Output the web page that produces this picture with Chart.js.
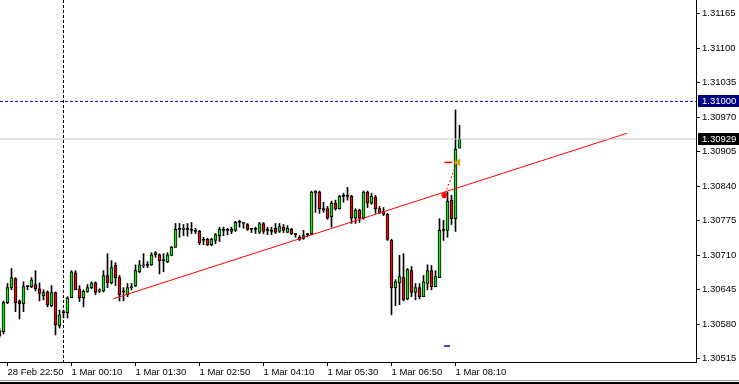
<!DOCTYPE html>
<html>
<head>
<meta charset="utf-8">
<script src="https://cdn.jsdelivr.net/npm/chart.js@4.4.0/dist/chart.umd.min.js"></script>
<style>
  body { margin: 0; background: #fff; }
  #grafico { display: block; }
</style>
</head>
<body>
<canvas id="grafico" width="739" height="384"></canvas>
<script>
// Velas de 5 minutos desde 28 Feb 22:40 (índice 0)
const aperturas = [
  1.30568, 1.30566, 1.30621, 1.30649, 1.30666, 1.30624, 1.30619, 1.30651, 1.30651, 1.30655,
  1.30647, 1.30634, 1.30641, 1.30615, 1.30640, 1.30577, 1.30602, 1.30602, 1.30630, 1.30677,
  1.30647, 1.30630, 1.30642, 1.30649, 1.30658, 1.30642, 1.30643, 1.30672, 1.30658, 1.30691,
  1.30668, 1.30641, 1.30636, 1.30649, 1.30653, 1.30679, 1.30690, 1.30691, 1.30692, 1.30711,
  1.30711, 1.30700, 1.30698, 1.30710, 1.30725, 1.30759, 1.30759, 1.30759, 1.30757, 1.30757,
  1.30755, 1.30738, 1.30740, 1.30730, 1.30738, 1.30747, 1.30757, 1.30757, 1.30755, 1.30757,
  1.30772, 1.30770, 1.30768, 1.30759, 1.30759, 1.30753, 1.30770, 1.30757, 1.30755, 1.30761,
  1.30755, 1.30763, 1.30753, 1.30759, 1.30749, 1.30744, 1.30742, 1.30749, 1.30751, 1.30827,
  1.30829, 1.30798, 1.30798, 1.30783, 1.30808, 1.30798, 1.30821, 1.30821, 1.30821, 1.30780,
  1.30795, 1.30780, 1.30829, 1.30808, 1.30819, 1.30798, 1.30793, 1.30787, 1.30738, 1.30649,
  1.30658, 1.30668, 1.30628, 1.30681, 1.30640, 1.30649, 1.30632, 1.30657, 1.30681, 1.30651,
  1.30668, 1.30757, 1.30757, 1.30814, 1.30779, 1.30912
];
const maximos = [
  1.30572, 1.30624, 1.30657, 1.30685, 1.30668, 1.30626, 1.30660, 1.30653, 1.30668, 1.30681,
  1.30658, 1.30645, 1.30643, 1.30653, 1.30641, 1.30607, 1.30607, 1.30632, 1.30681, 1.30681,
  1.30653, 1.30645, 1.30655, 1.30660, 1.30660, 1.30647, 1.30681, 1.30713, 1.30700, 1.30696,
  1.30672, 1.30649, 1.30657, 1.30657, 1.30692, 1.30700, 1.30713, 1.30698, 1.30715, 1.30717,
  1.30713, 1.30713, 1.30715, 1.30727, 1.30770, 1.30770, 1.30768, 1.30770, 1.30772, 1.30761,
  1.30757, 1.30744, 1.30742, 1.30742, 1.30751, 1.30763, 1.30763, 1.30761, 1.30763, 1.30774,
  1.30776, 1.30772, 1.30770, 1.30761, 1.30763, 1.30772, 1.30772, 1.30763, 1.30763, 1.30770,
  1.30770, 1.30768, 1.30766, 1.30761, 1.30751, 1.30747, 1.30757, 1.30751, 1.30831, 1.30832,
  1.30831, 1.30810, 1.30802, 1.30812, 1.30814, 1.30823, 1.30827, 1.30838, 1.30823, 1.30798,
  1.30797, 1.30831, 1.30831, 1.30827, 1.30823, 1.30802, 1.30800, 1.30789, 1.30740, 1.30664,
  1.30710, 1.30713, 1.30685, 1.30689, 1.30657, 1.30657, 1.30672, 1.30692, 1.30691, 1.30681,
  1.30779, 1.30776, 1.30829, 1.30823, 1.30984, 1.30955
];
const minimos = [
  1.30555, 1.30562, 1.30619, 1.30645, 1.30604, 1.30590, 1.30604, 1.30645, 1.30649, 1.30643,
  1.30624, 1.30626, 1.30613, 1.30613, 1.30560, 1.30573, 1.30592, 1.30592, 1.30630, 1.30645,
  1.30623, 1.30613, 1.30640, 1.30647, 1.30636, 1.30640, 1.30641, 1.30649, 1.30656, 1.30653,
  1.30624, 1.30624, 1.30632, 1.30645, 1.30651, 1.30677, 1.30687, 1.30687, 1.30691, 1.30706,
  1.30675, 1.30679, 1.30696, 1.30709, 1.30725, 1.30744, 1.30747, 1.30746, 1.30751, 1.30751,
  1.30730, 1.30730, 1.30728, 1.30728, 1.30732, 1.30736, 1.30747, 1.30749, 1.30751, 1.30755,
  1.30763, 1.30761, 1.30757, 1.30753, 1.30751, 1.30751, 1.30751, 1.30749, 1.30749, 1.30751,
  1.30753, 1.30753, 1.30753, 1.30749, 1.30744, 1.30738, 1.30740, 1.30745, 1.30749, 1.30791,
  1.30789, 1.30791, 1.30778, 1.30763, 1.30795, 1.30797, 1.30810, 1.30814, 1.30770, 1.30770,
  1.30772, 1.30778, 1.30800, 1.30806, 1.30789, 1.30789, 1.30785, 1.30738, 1.30598, 1.30615,
  1.30617, 1.30624, 1.30626, 1.30632, 1.30626, 1.30628, 1.30632, 1.30645, 1.30645, 1.30651,
  1.30668, 1.30738, 1.30744, 1.30768, 1.30755, 1.30912
];
const cierres = [
  1.30558, 1.30621, 1.30649, 1.30668, 1.30621, 1.30619, 1.30651, 1.30651, 1.30664, 1.30647,
  1.30638, 1.30640, 1.30617, 1.30640, 1.30579, 1.30598, 1.30602, 1.30630, 1.30679, 1.30645,
  1.30630, 1.30642, 1.30649, 1.30658, 1.30640, 1.30645, 1.30672, 1.30658, 1.30687, 1.30668,
  1.30636, 1.30641, 1.30649, 1.30651, 1.30681, 1.30692, 1.30692, 1.30691, 1.30711, 1.30715,
  1.30700, 1.30700, 1.30711, 1.30725, 1.30759, 1.30759, 1.30761, 1.30759, 1.30757, 1.30755,
  1.30734, 1.30738, 1.30730, 1.30740, 1.30749, 1.30759, 1.30757, 1.30757, 1.30759, 1.30772,
  1.30772, 1.30772, 1.30759, 1.30759, 1.30759, 1.30770, 1.30755, 1.30757, 1.30755, 1.30753,
  1.30764, 1.30757, 1.30761, 1.30751, 1.30749, 1.30740, 1.30747, 1.30749, 1.30829, 1.30831,
  1.30798, 1.30795, 1.30780, 1.30808, 1.30798, 1.30821, 1.30821, 1.30821, 1.30780, 1.30795,
  1.30780, 1.30829, 1.30808, 1.30821, 1.30798, 1.30791, 1.30787, 1.30740, 1.30649, 1.30660,
  1.30670, 1.30626, 1.30683, 1.30640, 1.30649, 1.30632, 1.30660, 1.30681, 1.30651, 1.30670,
  1.30757, 1.30757, 1.30812, 1.30779, 1.30910, 1.30929
];

// Eje de tiempo: índice de vela y su texto
const posEtiquetas = [2, 18, 34, 50, 66, 82, 98, 114];
const etiquetasTiempo = ['28 Feb 22:50', '1 Mar 00:10', '1 Mar 01:30', '1 Mar 02:50',
  '1 Mar 04:10', '1 Mar 05:30', '1 Mar 06:50', '1 Mar 08:10'];

// Eje de precios
const ticksPrecio = [1.31165, 1.31100, 1.31035, 1.30970, 1.30905, 1.30840,
  1.30775, 1.30710, 1.30645, 1.30580, 1.30515];

// Objetos del gráfico
const nivelAlerta = 1.31000;
const precioActual = 1.30929;
const separadorDia = 16; // 1 Mar 00:00
const tendenciaX = [28.4, 156.9];
const tendenciaY = [1.30628, 1.30940];
const operacionX = [111.4, 114.4];
const operacionY = [1.30827, 1.30885];
const stopLoss = 1.30539;

const verde = '#22dc22';
const rojo = '#d01010';
const fuente = { family: 'Liberation Sans, Arial, sans-serif', size: 9.5 };
const xMin = 0.125, xMax = 174.125;
const yMin = 1.30509, yMax = 1.31191;

const mechas = minimos.map((l, i) => ({ x: i, y: [l, maximos[i]] }));
const cuerpos = aperturas.map((o, i) => ({ x: i, y: [o, cierres[i]] }));
const coloresCuerpo = aperturas.map((o, i) => cierres[i] > o ? verde : (cierres[i] < o ? rojo : '#000'));

function linea(puntos, color, dash) {
  return {
    type: 'line', data: puntos, borderColor: color, borderWidth: 1,
    borderDash: dash || [], pointRadius: 0, fill: false, order: 1
  };
}

function marca(x, y, estilo, color, radio, rot) {
  return {
    type: 'line', data: [{ x: x, y: y }], showLine: false, order: 0,
    pointStyle: estilo, pointRadius: radio, pointRotation: rot || 0,
    pointBackgroundColor: color, pointBorderColor: color, pointBorderWidth: 1.5
  };
}

// Cajas de precio en el eje derecho y borde inferior
const cajasPrecio = {
  id: 'cajasPrecio',
  afterDraw(chart) {
    const ctx = chart.ctx;
    const ejeY = chart.scales.y;
    const x0 = chart.chartArea.right + 2;
    [[nivelAlerta, '#000080'], [precioActual, '#000']].forEach(([valor, fondo]) => {
      const y = Math.round(ejeY.getPixelForValue(valor));
      ctx.fillStyle = fondo;
      ctx.fillRect(x0, y - 6, 739 - x0, 12);
      ctx.fillStyle = '#fff';
      ctx.font = fuente.size + 'px ' + fuente.family;
      ctx.textBaseline = 'middle';
      ctx.textAlign = 'left';
      ctx.fillText(valor.toFixed(5), x0 + 4, y + 0.5);
    });
    ctx.fillStyle = '#a0a0a0';
    ctx.fillRect(0, 380, 739, 1);
    ctx.fillStyle = '#000';
    ctx.fillRect(0, 382, 739, 2);
  }
};

new Chart(document.getElementById('grafico'), {
  type: 'bar',
  data: {
    datasets: [
      { data: mechas, backgroundColor: '#000', barThickness: 1, grouped: false, order: 3 },
      {
        data: cuerpos, backgroundColor: coloresCuerpo, borderColor: '#000', borderWidth: 1,
        borderSkipped: false, barThickness: 3, grouped: false, minBarLength: 1, order: 2
      },
      linea([{ x: separadorDia, y: yMax }, { x: separadorDia, y: yMin }], '#000', [3, 2]),
      linea([{ x: xMin, y: nivelAlerta }, { x: xMax, y: nivelAlerta }], '#0000a0', [3, 2]),
      linea([{ x: xMin, y: precioActual }, { x: xMax, y: precioActual }], '#c0c0c0'),
      linea(tendenciaX.map((x, i) => ({ x: x, y: tendenciaY[i] })), '#ff0000'),
      linea(operacionX.map((x, i) => ({ x: x, y: operacionY[i] })), '#ff0000', [2, 2]),
      marca(operacionX[0] - 0.2, operacionY[0] - 0.00004, 'star', '#ff0000', 3),
      marca(112.2, operacionY[1], 'line', '#ff0000', 4),
      marca(114.6, operacionY[1], 'triangle', '#e0a020', 3, -90),
      marca(111.9, stopLoss, 'line', '#0000cc', 3)
    ]
  },
  options: {
    responsive: false,
    animation: false,
    devicePixelRatio: 1,
    events: [],
    layout: { padding: 0, autoPadding: false },
    plugins: { legend: { display: false }, tooltip: { enabled: false } },
    scales: {
      x: {
        type: 'linear', min: xMin, max: xMax, offset: false,
        afterBuildTicks: (eje) => { eje.ticks = posEtiquetas.map(v => ({ value: v })); },
        afterFit: (eje) => { eje.height = 22; eje.paddingLeft = 0; eje.paddingRight = 0; },
        ticks: {
          autoSkip: false, maxRotation: 0, align: 'start', padding: 1, color: '#000', font: fuente,
          callback: (v) => etiquetasTiempo[posEtiquetas.indexOf(v)]
        },
        grid: { offset: false, drawOnChartArea: false, tickLength: 4, color: '#000' },
        border: { color: '#000' }
      },
      y: {
        type: 'linear', position: 'right', min: yMin, max: yMax,
        afterBuildTicks: (eje) => { eje.ticks = ticksPrecio.map(v => ({ value: v })); },
        afterFit: (eje) => { eje.width = 43; eje.paddingTop = 0; eje.paddingBottom = 0; },
        ticks: { padding: 2, color: '#000', font: fuente, callback: (v) => v.toFixed(5) },
        grid: { drawOnChartArea: false, tickLength: 4, color: '#000' },
        border: { color: '#000' }
      }
    }
  },
  plugins: [cajasPrecio]
});
</script>
</body>
</html>
